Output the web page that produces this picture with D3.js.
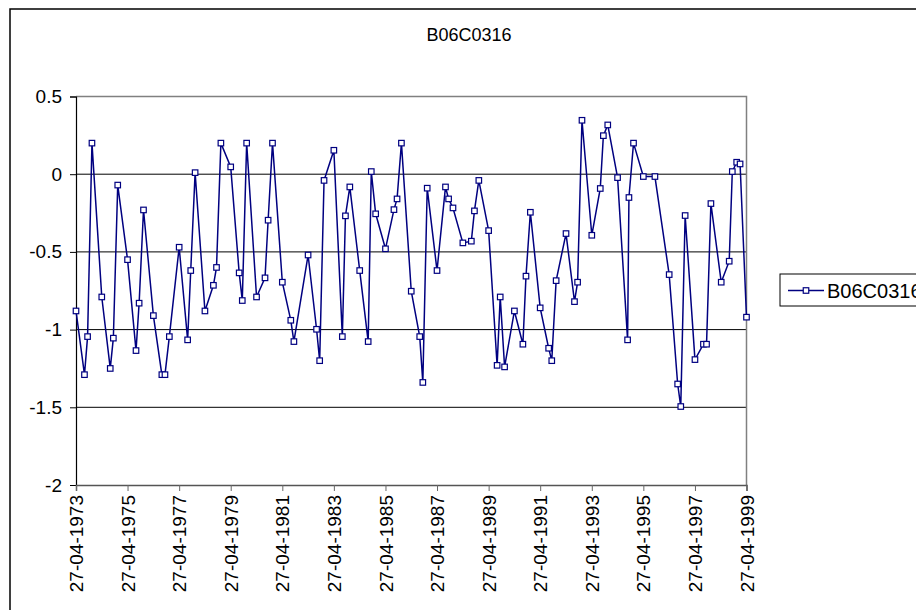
<!DOCTYPE html>
<html>
<head>
<meta charset="utf-8">
<script src="https://cdn.jsdelivr.net/npm/d3@7"></script>
<style>
  html, body { margin: 0; padding: 0; background: #fff; }
  svg { display: block; font-family: "Liberation Sans", Arial, sans-serif; }
</style>
</head>
<body>
<svg id="chart" width="916" height="610"></svg>
<script>
const title = "B06C0316";
const seriesName = "B06C0316";
const dates = [
  "1973-04-27","1973-08-25","1973-10-08","1973-12-09",
  "1974-04-27","1974-08-25","1974-10-08","1974-12-09",
  "1975-04-27","1975-08-25","1975-10-08","1975-12-09",
  "1976-04-27","1976-08-25","1976-10-08","1976-12-09",
  "1977-04-27","1977-08-25","1977-10-08","1977-12-09",
  "1978-04-27","1978-08-25","1978-10-08","1978-12-09",
  "1979-04-27","1979-08-25","1979-10-08","1979-12-09",
  "1980-04-27","1980-08-25","1980-10-08","1980-12-09",
  "1981-04-27","1981-08-25","1981-10-08",
  "1982-04-27","1982-08-25","1982-10-08","1982-12-09",
  "1983-04-27","1983-08-25","1983-10-08","1983-12-09",
  "1984-04-27","1984-08-25","1984-10-08","1984-12-09",
  "1985-04-27","1985-08-25","1985-10-08","1985-12-09",
  "1986-04-27","1986-08-25","1986-10-08","1986-12-09",
  "1987-04-27","1987-08-25","1987-10-08","1987-12-09",
  "1988-04-27","1988-08-25","1988-10-08","1988-12-09",
  "1989-04-27","1989-08-25","1989-10-08","1989-12-09",
  "1990-04-27","1990-08-25","1990-10-08","1990-12-09",
  "1991-04-27","1991-08-25","1991-10-08","1991-12-09",
  "1992-04-27","1992-08-25","1992-10-08","1992-12-09",
  "1993-04-27","1993-08-25","1993-10-08","1993-12-09",
  "1994-04-27","1994-09-16","1994-10-05","1994-12-09",
  "1995-04-27","1995-10-08",
  "1996-04-27","1996-08-25","1996-10-08","1996-12-09",
  "1997-04-27","1997-08-25","1997-10-08","1997-12-09",
  "1998-05-04","1998-08-25","1998-10-08","1998-12-09",
  "1999-01-26","1999-04-27"
];
const values = [
  -0.88,-1.29,-1.045,0.20,
  -0.79,-1.25,-1.055,-0.07,
  -0.55,-1.135,-0.83,-0.23,
  -0.91,-1.29,-1.29,-1.045,
  -0.47,-1.066,-0.62,0.01,
  -0.88,-0.715,-0.60,0.20,
  0.047,-0.635,-0.813,0.20,
  -0.79,-0.667,-0.296,0.20,
  -0.695,-0.94,-1.077,
  -0.52,-0.998,-1.20,-0.04,
  0.154,-1.045,-0.268,-0.082,
  -0.62,-1.077,0.017,-0.255,
  -0.48,-0.228,-0.159,0.20,
  -0.753,-1.045,-1.34,-0.09,
  -0.62,-0.082,-0.159,-0.217,
  -0.442,-0.431,-0.236,-0.04,
  -0.363,-1.23,-0.79,-1.24,
  -0.88,-1.094,-0.656,-0.245,
  -0.86,-1.12,-1.20,-0.685,
  -0.382,-0.82,-0.695,0.347,
  -0.393,-0.092,0.248,0.317,
  -0.022,-1.066,-0.15,0.20,
  -0.015,-0.015,
  -0.646,-1.35,-1.495,-0.266,
  -1.193,-1.094,-1.094,-0.189,
  -0.695,-0.56,0.017,0.077,
  0.066,-0.92
];
const xTickLabels = ["27-04-1973","27-04-1975","27-04-1977","27-04-1979","27-04-1981","27-04-1983","27-04-1985","27-04-1987","27-04-1989","27-04-1991","27-04-1993","27-04-1995","27-04-1997","27-04-1999"];
const yTicks = [0.5, 0, -0.5, -1, -1.5, -2];
const yTickLabels = ["0.5", "0", "-0.5", "-1", "-1.5", "-2"];

const parseISO = d3.timeParse("%Y-%m-%d");
const parseLbl = d3.timeParse("%d-%m-%Y");
const fmtLbl = d3.timeFormat("%d-%m-%Y");
const data = dates.map((d, i) => ({ date: parseISO(d), value: values[i] }));
const xTickDates = xTickLabels.map(parseLbl);

const svg = d3.select("#chart");
const L = 76, R = 746.5, T = 96.5, B = 485;
const navy = "#000080";

// outer chart border
svg.append("rect").attr("x", 10).attr("y", 9).attr("width", 1000).attr("height", 700)
  .attr("fill", "none").attr("stroke", "#000").attr("stroke-width", 1.5);

const x = d3.scaleTime().domain([xTickDates[0], xTickDates[xTickDates.length - 1]]).range([L, R]);
const y = d3.scaleLinear().domain([-2, 0.5]).range([B, T]);

// gridlines
svg.append("g").selectAll("line").data(yTicks.filter(v => v > -2 && v < 0.5)).join("line")
  .attr("x1", L).attr("x2", R).attr("y1", d => y(d)).attr("y2", d => y(d))
  .attr("stroke", "#000").attr("stroke-width", 1);

// plot area top & right border (gray)
svg.append("path").attr("d", `M${L},${T}H${R}V${B}`).attr("fill", "none")
  .attr("stroke", "#808080").attr("stroke-width", 1.5);

// y axis
const yAxis = d3.axisLeft(y).tickValues(yTicks).tickSize(6).tickPadding(8)
  .tickFormat((d, i) => yTickLabels[i]);
const gy = svg.append("g").attr("transform", `translate(${L},0)`).call(yAxis);
gy.select(".domain").attr("stroke", "#000").attr("stroke-width", 1.2);
gy.selectAll(".tick line").attr("stroke", "#000");
gy.selectAll(".tick text").attr("font-size", 19).attr("fill", "#000")
  .attr("font-family", "Liberation Sans, Arial, sans-serif");

// x axis
const xAxis = d3.axisBottom(x).tickValues(xTickDates).tickSize(6).tickFormat(fmtLbl);
const gx = svg.append("g").attr("transform", `translate(0,${B})`).call(xAxis);
gx.select(".domain").attr("stroke", "#555").attr("stroke-width", 1.5);
gx.selectAll(".tick line").attr("stroke", "#666");
gx.selectAll(".tick text")
  .attr("font-size", 19).attr("fill", "#000")
  .attr("font-family", "Liberation Sans, Arial, sans-serif")
  .attr("transform", "rotate(-90)")
  .attr("text-anchor", "end")
  .attr("x", -10).attr("y", 0).attr("dy", "0.35em");

// line
const line = d3.line().x(d => x(d.date)).y(d => y(d.value));
svg.append("path").datum(data).attr("d", line).attr("fill", "none")
  .attr("stroke", navy).attr("stroke-width", 1.5);

// markers
svg.append("g").selectAll("rect").data(data).join("rect")
  .attr("x", d => x(d.date) - 2.75).attr("y", d => y(d.value) - 2.75)
  .attr("width", 5.5).attr("height", 5.5)
  .attr("fill", "#fff").attr("stroke", navy).attr("stroke-width", 1.2);

// title
svg.append("text").attr("x", 469).attr("y", 41).attr("text-anchor", "middle")
  .attr("font-size", 18).attr("fill", "#000").text(title);

// legend
const lg = svg.append("g");
lg.append("rect").attr("x", 780).attr("y", 274).attr("width", 200).attr("height", 32)
  .attr("fill", "#fff").attr("stroke", "#000").attr("stroke-width", 1);
lg.append("line").attr("x1", 788).attr("x2", 824).attr("y1", 290.5).attr("y2", 290.5)
  .attr("stroke", navy).attr("stroke-width", 1.5);
lg.append("rect").attr("x", 803.25).attr("y", 287.75).attr("width", 5.5).attr("height", 5.5)
  .attr("fill", "#fff").attr("stroke", navy).attr("stroke-width", 1.2);
lg.append("text").attr("x", 827).attr("y", 297.5).attr("font-size", 20)
  .attr("fill", "#000").text(seriesName);
</script>
</body>
</html>
